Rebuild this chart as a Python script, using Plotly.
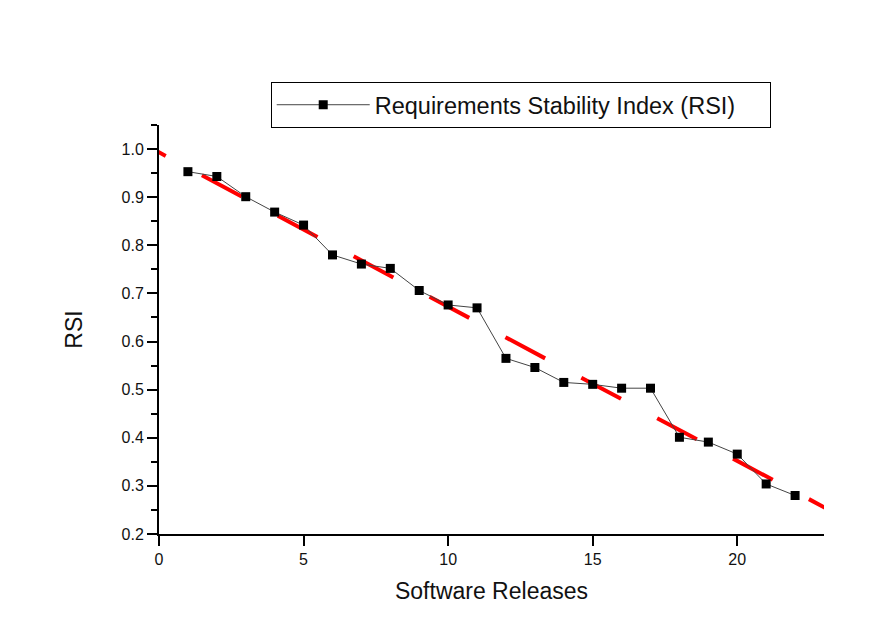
import numpy as np
import plotly.graph_objects as go

# Requirements Stability Index per software release
releases = list(range(1, 23))
rsi = [0.953, 0.943, 0.901, 0.869, 0.842, 0.780, 0.761, 0.752, 0.706, 0.676, 0.670,
       0.565, 0.546, 0.515, 0.511, 0.503, 0.503, 0.401, 0.391, 0.366, 0.304, 0.280]

# Linear trend of RSI over releases, drawn across the whole axis span
slope, intercept = np.polyfit(releases, rsi, 1)
trend_x = np.array([-1.14, 23.5])
trend_y = intercept + slope * trend_x

fig = go.Figure()

fig.add_trace(go.Scatter(
    x=trend_x, y=trend_y, mode="lines",
    line=dict(color="#ff0000", width=4, dash="45px,41px"),
    showlegend=False, hoverinfo="skip",
))

fig.add_trace(go.Scatter(
    x=releases, y=rsi, mode="lines+markers",
    name="Requirements Stability Index (RSI)",
    line=dict(color="#444444", width=1),
    marker=dict(symbol="square", size=9, color="black"),
))

axis_font = dict(family="Liberation Sans, Arial, sans-serif", size=16, color="#111111")

fig.update_layout(
    width=888, height=630,
    margin=dict(l=159, r=64, t=125, b=96),
    paper_bgcolor="white", plot_bgcolor="white",
    font=dict(family="Liberation Sans, Arial, sans-serif", color="#111111"),
    legend=dict(
        x=0.168, y=1.049, xanchor="left", yanchor="middle",
        orientation="h", entrywidth=390, itemwidth=93,
        bordercolor="black", borderwidth=1, bgcolor="white",
        font=dict(size=23.5, color="#111111"),
    ),
    xaxis=dict(
        range=[0, 23], tick0=0, dtick=5,
        showgrid=False, zeroline=False,
        showline=True, linecolor="black", linewidth=2,
        ticks="outside", ticklen=10, tickwidth=2, tickcolor="black",
        tickfont=axis_font,
        title=dict(text="Software Releases", font=dict(size=23), standoff=16),
    ),
    yaxis=dict(
        range=[0.2, 1.05], tick0=0.2, dtick=0.1, tickformat=".1f",
        showgrid=False, zeroline=False,
        showline=True, linecolor="black", linewidth=2,
        ticks="outside", ticklen=10, tickwidth=2, tickcolor="black",
        minor=dict(dtick=0.05, ticks="outside", ticklen=6, tickwidth=2, tickcolor="black"),
        tickfont=axis_font,
        title=dict(text="RSI", font=dict(size=23), standoff=32),
    ),
)

fig.write_html("out.html")
